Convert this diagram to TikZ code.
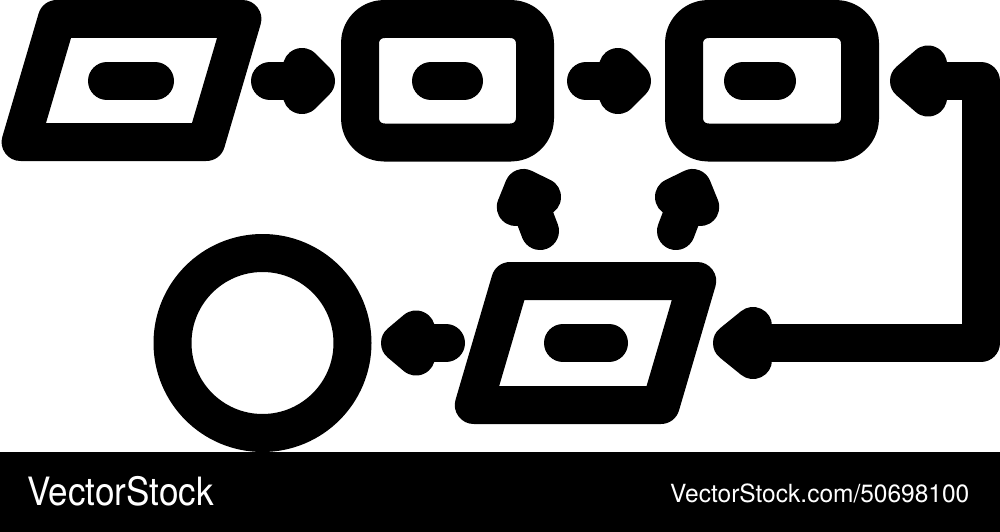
\documentclass[tikz,border=0pt]{standalone}
\usepackage{fontspec}
\newfontfamily\heros{TeX Gyre Heros}
\begin{document}
\begin{tikzpicture}[x=1pt,y=-1pt,
  icon/.style={line width=38pt, line join=round, line cap=round, draw=black},
  headtip/.style={line width=38pt, line join=round, draw=black, fill=black},
  logo/.style={text=white, inner sep=0pt, anchor=base west}]
\useasboundingbox (0,0) rectangle (1000,532);
% boxes
\draw[icon] (56.8,19) coordinate (p1a) -- (242.4,19) -- (206.2,142) -- (20.6,142) -- cycle;
\draw[icon] (107,81) -- (155,81);
\draw[icon, rounded corners=24pt] (360,19) rectangle (535,142.5);
\draw[icon] (431,81) -- (464,81);
\draw[icon, rounded corners=24pt] (684,19) rectangle (860,142.5);
\draw[icon] (743,81) -- (777,81);
\draw[icon] (510.2,281) -- (697.2,281) -- (660.8,405) -- (473.8,405) -- cycle;
\draw[icon] (563,343) -- (609,343);
\draw[icon] (262.5,343) circle[radius=90pt];
% arrow 1
\draw[icon] (270,81) coordinate (a1s) -- (302,81) coordinate (a1b);
\filldraw[headtip] (316,81) -- (302,67) -- (302,95) -- cycle;
% arrow 2
\draw[icon] (586,81) coordinate (a2s) -- (618,81) coordinate (a2b);
\filldraw[headtip] (632,81) -- (618,67) -- (618,95) -- cycle;
% return loop
\draw[icon] (928,81) coordinate (rb1) -- (981,81) coordinate (rc1) -- (981,343) coordinate (rc2) -- (753,343) coordinate (rb2);
\filldraw[headtip] (909,81) -- (928,64.5) -- (928,97.5) -- cycle;
\filldraw[headtip] (732,343) -- (753,326) -- (753,360) -- cycle;
% arrow to circle
\draw[icon] (446,343) coordinate (a3s) -- (416,343) coordinate (a3b);
\filldraw[headtip] (400,343) -- (416,329.5) -- (416,356.5) -- cycle;
% diagonal arrows
\draw[icon] (540,231) coordinate (d1s) -- (528.9,202) coordinate (d1b);
\filldraw[headtip] (523.5,188) -- (542,197) -- (515.8,207) -- cycle;
\draw[icon] (676,231) coordinate (d2s) -- (687.1,202) coordinate (d2b);
\filldraw[headtip] (692.5,188) -- (674,197) -- (700.2,207) -- cycle;
% bottom bar
\fill[black] (0,452) rectangle (1000,532);
\node[logo, xscale=0.90] (brand) at (27,505) {\heros\fontsize{39pt}{42pt}\selectfont VectorStock};
\node[logo, xscale=0.98] (url) at (670,502) {\heros\fontsize{25pt}{28pt}\selectfont VectorStock.com/50698100};
\end{tikzpicture}
\end{document}
